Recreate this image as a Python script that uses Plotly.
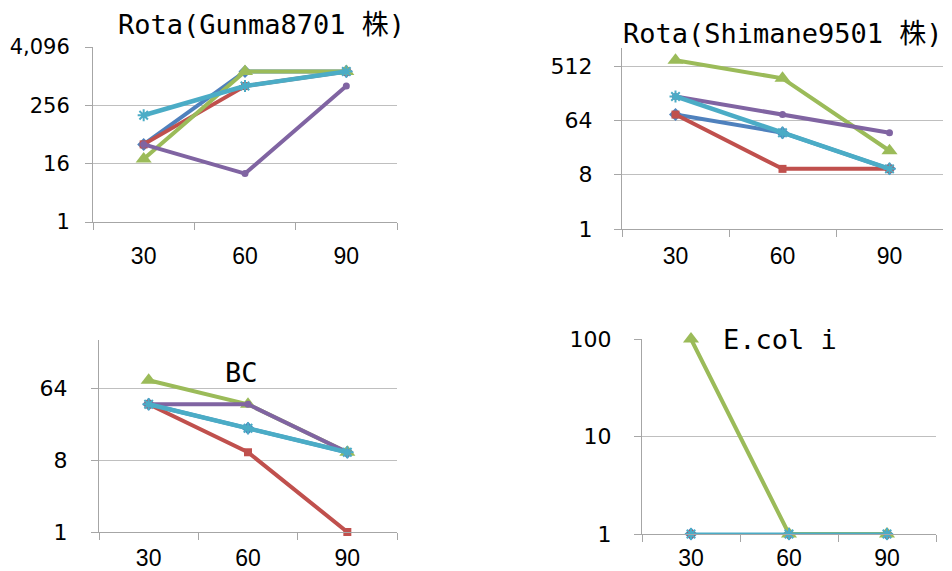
import math
import plotly.graph_objects as go

# ---------------- data ----------------
times = ["30", "60", "90"]
series_names = ["系列1", "系列2", "系列3", "系列4", "系列5"]

gunma_blue = [40, 1280, 1280]
gunma_red = [40, 640, 1280]
gunma_green = [20, 1280, 1280]
gunma_purple = [40, 10, 640]
gunma_cyan = [160, 640, 1280]

shimane_blue = [80, 40, 10]
shimane_red = [80, 10, 10]
shimane_green = [640, 320, 20]
shimane_purple = [160, 80, 40]
shimane_cyan = [160, 40, 10]

bc_blue = [40, 20, 10]
bc_red = [40, 10, 1]
bc_green = [80, 40, 10]
bc_purple = [40, 40, 10]
bc_cyan = [40, 20, 10]

ecoli_blue = [1, 1, 1]
ecoli_red = [1, 1, 1]
ecoli_green = [100, 1, 1]
ecoli_purple = [1, 1, 1]
ecoli_cyan = [1, 1, 1]

gunma_ticks = [1, 16, 256, 4096]
gunma_ticktext = ["1", "16", "256", "4,096"]
shimane_ticks = [1, 8, 64, 512]
shimane_ticktext = ["1", "8", "64", "512"]
bc_ticks = [1, 8, 64]
bc_ticktext = ["1", "8", "64"]
ecoli_ticks = [1, 10, 100]
ecoli_ticktext = ["1", "10", "100"]

titles = ["Rota(Gunma8701 株)", "Rota(Shimane9501 株)", "BC", "E.col i"]

# ---------------- style ----------------
# page body has an 8px margin: the figure sits at (8, 8) in the window
OFF = 8
W, H = 952 - OFF, 571 - OFF
colors = ["#4F81BD", "#C0504D", "#9BBB59", "#8064A2", "#4BACC6"]
symbols = ["diamond", "square", "triangle-up", "circle", "asterisk-open"]
msizes = [10, 8, 14, 7, 10]
lwidths = [4, 4, 4, 4, 4.5]
ecoli_lwidths = [2, 2, 4, 2, 3]
GRID = "#BFBFBF"
AXIS = "#A6A6A6"

panels = [
    dict(data=[gunma_blue, gunma_red, gunma_green, gunma_purple, gunma_cyan],
         ticks=gunma_ticks, ticktext=gunma_ticktext, ymax=4096,
         box=(93, 47, 397, 222), title_xy=(261, 25),
         xstand=13, ystand=11, yfs=21, lw=lwidths),
    dict(data=[shimane_blue, shimane_red, shimane_green, shimane_purple, shimane_cyan],
         ticks=shimane_ticks, ticktext=shimane_ticktext, ymax=1024,
         box=(622, 48, 943, 229), title_xy=(783, 33),
         xstand=6, ystand=17, yfs=22, lw=lwidths),
    dict(data=[bc_blue, bc_red, bc_green, bc_purple, bc_cyan],
         ticks=bc_ticks, ticktext=bc_ticktext, ymax=256,
         box=(99, 340, 397, 532), title_xy=(241, 372),
         xstand=5, ystand=19, yfs=22, lw=lwidths),
    dict(data=[ecoli_blue, ecoli_red, ecoli_green, ecoli_purple, ecoli_cyan],
         ticks=ecoli_ticks, ticktext=ecoli_ticktext, ymax=100,
         box=(642, 339, 936, 534), title_xy=(780, 339),
         xstand=3, ystand=18, yfs=22, lw=ecoli_lwidths),
]

fig = go.Figure()
layout = dict(
    width=W, height=H,
    margin=dict(l=0, r=0, t=0, b=0, pad=0, autoexpand=False),
    paper_bgcolor="white", plot_bgcolor="white",
    showlegend=False,
    annotations=[],
)

for i, p in enumerate(panels):
    k = "" if i == 0 else str(i + 1)
    x0, y0, x1, y1 = [v - OFF for v in p["box"]]
    for j, ys in enumerate(p["data"]):
        mk = dict(symbol=symbols[j], size=msizes[j], color=colors[j])
        if symbols[j] == "asterisk-open":
            mk["line"] = dict(color=colors[j], width=2)
        fig.add_trace(go.Scatter(
            x=times, y=ys, name=series_names[j], mode="lines+markers",
            line=dict(color=colors[j], width=p["lw"][j]), marker=mk,
            xaxis="x" + k, yaxis="y" + k, cliponaxis=False,
        ))
    layout["xaxis" + k] = dict(
        domain=[x0 / W, x1 / W], anchor="y" + k, type="category",
        categoryorder="array", categoryarray=times, range=[-0.5, 2.5],
        showgrid=False, showline=True, linecolor=AXIS, linewidth=1,
        ticks="outside", tickson="boundaries", ticklen=7, tickcolor=AXIS,
        tickfont=dict(family="Liberation Sans, Arial", size=23, color="black"),
        ticklabelstandoff=p["xstand"], zeroline=False, automargin=False,
    )
    layout["yaxis" + k] = dict(
        domain=[1 - y1 / H, 1 - y0 / H], anchor="x" + k, type="log",
        range=[0, math.log10(p["ymax"])],
        tickvals=p["ticks"], ticktext=p["ticktext"],
        showgrid=True, gridcolor=GRID, gridwidth=1,
        showline=True, linecolor=AXIS, linewidth=1,
        ticks="outside", ticklen=7, tickcolor=AXIS,
        tickfont=dict(family="DejaVu Sans", size=p["yfs"], color="black"),
        ticklabelstandoff=p["ystand"], zeroline=False, automargin=False,
    )
    tx, ty = p["title_xy"]
    layout["annotations"].append(dict(
        text=titles[i], x=(tx - OFF) / W, y=1 - (ty - OFF) / H,
        xref="paper", yref="paper",
        xanchor="center", yanchor="middle", showarrow=False,
        font=dict(family="DejaVu Sans Mono, Noto Sans CJK JP", size=27, color="black"),
    ))

fig.update_layout(**layout)
fig.write_html("out.html")
